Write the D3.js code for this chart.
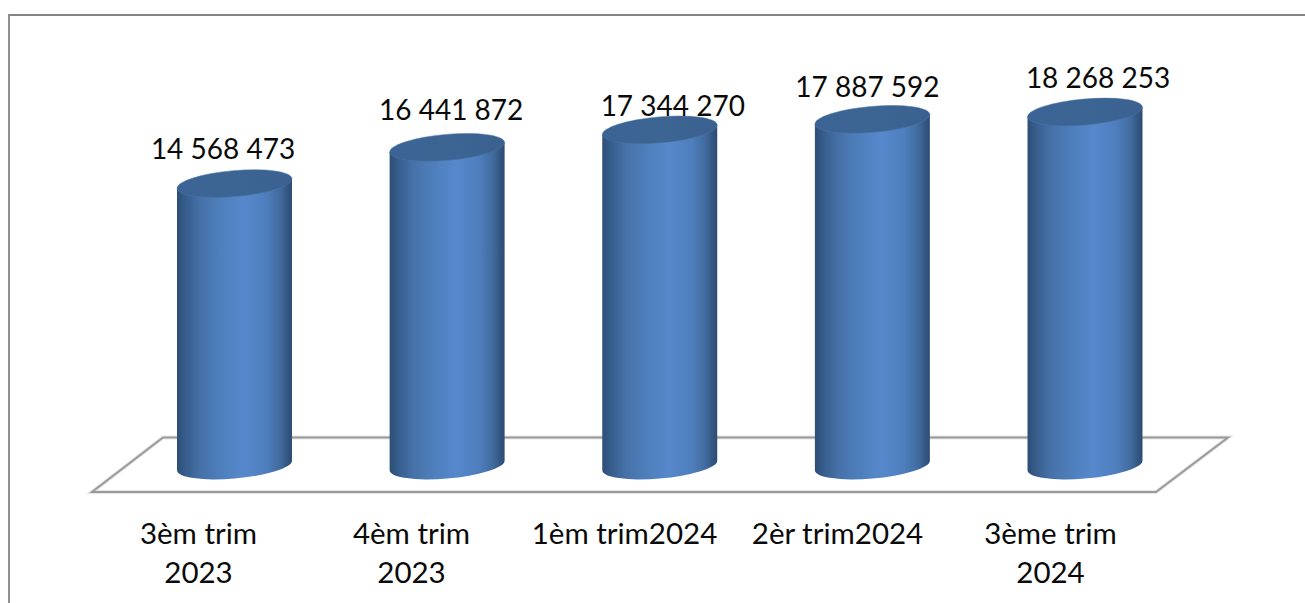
<!DOCTYPE html>
<html>
<head>
<meta charset="utf-8">
<script src="https://cdn.jsdelivr.net/npm/d3@7"></script>
<style>
  html, body { margin: 0; padding: 0; background: #fff; overflow: hidden; }
  text { font-family: Lato, "Open Sans", sans-serif; fill: #0a0a0a; }
</style>
</head>
<body>
<div id="chart"></div>
<script>
(function() {
  var categories = ["3èm trim 2023", "4èm trim 2023", "1èm trim2024", "2èr trim2024", "3ème trim 2024"]
  var values = [14568473, 16441872, 17344270, 17887592, 18268253]
  var valueLabels = ["14 568 473", "16 441 872", "17 344 270", "17 887 592", "18 268 253"]

  // the labels were moved by hand in the original, they are not centred on the cylinders
  var labelShiftX = [-11.5, 4, 13, -5, 13]
  var labelShiftY = [-25, -27, -14, -22, -24]

  var width = 1305, height = 603

  var svg = d3.select("#chart")
      .append("svg")
      .attr("width", width)
      .attr("height", height)
      .style("display", "block")

  // cylinders stand further back than the axis labels, so each has its own scale
  var xCylinder = d3.scalePoint().domain(categories).range([234.5, 1085])
  var xAxisScale = d3.scalePoint().domain(categories).range([198, 1050])
  var yScale = d3.scaleLinear().domain([0, 18268253]).range([465.5, 112])

  // the tilted ellipse used for top and bottom of each cylinder
  var rx = 57.7, ry = 13, tilt = -5
  var rad = tilt * Math.PI / 180
  var edgeX = Math.sqrt(rx * rx * Math.cos(rad) * Math.cos(rad) + ry * ry * Math.sin(rad) * Math.sin(rad))
  var edgeY = (rx * rx - ry * ry) * Math.sin(rad) * Math.cos(rad) / edgeX

  var defs = svg.append("defs")

  var side = defs.append("linearGradient").attr("id", "side")
  var sideStops = [[0, "#2d4e76"], [0.07, "#365c8a"], [0.2, "#4671a8"], [0.38, "#4e7fbc"], [0.58, "#5688cc"],
    [0.78, "#4e7ebc"], [0.9, "#416b9e"], [0.97, "#31537d"], [1, "#2d4c72"]]
  sideStops.forEach(function(s) {
    side.append("stop").attr("offset", s[0]).attr("stop-color", s[1])
  })

  var cap = defs.append("linearGradient").attr("id", "cap")
  cap.append("stop").attr("offset", 0).attr("stop-color", "#3b6395")
  cap.append("stop").attr("offset", 0.5).attr("stop-color", "#3d6593")
  cap.append("stop").attr("offset", 1).attr("stop-color", "#3a618f")

  // page frame, only top and left are visible
  svg.append("path")
      .attr("d", d3.line()([[9, height], [9, 15], [width, 15]]))
      .attr("fill", "none")
      .attr("stroke", "#858585")
      .attr("stroke-width", 1.8)

  // floor, with a soft edge under the grey line
  var floorPath = d3.line()([[92, 492], [1156, 492], [1228, 437.5], [163, 437.5]]) + "Z"

  svg.append("path")
      .attr("d", floorPath)
      .attr("fill", "#fff")
      .attr("stroke", "#e6e6e6")
      .attr("stroke-width", 4)

  svg.append("path")
      .attr("d", floorPath)
      .attr("fill", "none")
      .attr("stroke", "#9a9a9a")
      .attr("stroke-width", 2)

  var bars = svg.selectAll(".cylinder")
      .data(values)
      .enter().append("g")
      .attr("class", "cylinder")
      .attr("transform", function(d, i) {
        return "translate(" + xCylinder(categories[i]) + ",0)"
      })

  bars.append("path")
      .attr("d", function(d) {
        var top = yScale(d), bottom = yScale(0)
        return "M" + (-edgeX) + "," + (top - edgeY) +
          "L" + (-edgeX) + "," + (bottom - edgeY) +
          "A" + rx + "," + ry + " " + tilt + " 0 0 " + edgeX + "," + (bottom + edgeY) +
          "L" + edgeX + "," + (top + edgeY) + "Z"
      })
      .attr("fill", "url(#side)")

  bars.append("ellipse")
      .attr("rx", rx)
      .attr("ry", ry)
      .attr("transform", function(d) {
        return "translate(0," + yScale(d) + ") rotate(" + tilt + ")"
      })
      .attr("fill", "url(#cap)")
      .attr("stroke", "#4a76a8")
      .attr("stroke-width", 0.5)

  bars.append("text")
      .text(function(d, i) { return valueLabels[i] })
      .attr("x", function(d, i) { return labelShiftX[i] })
      .attr("y", function(d, i) { return yScale(d) + labelShiftY[i] })
      .attr("text-anchor", "middle")
      .attr("font-size", "28px")

  // category axis, line and ticks hidden
  var axis = svg.append("g")
      .attr("transform", "translate(0,544)")
      .call(d3.axisBottom(xAxisScale).tickSize(0).tickPadding(0))

  axis.select(".domain").remove()

  axis.selectAll("text")
      .attr("font-family", null)
      .style("font-size", "29.5px")
      .each(function(d) {
        var parts = d.split(/ (?=\d{4})/)
        var label = d3.select(this).text(null).attr("y", 0).attr("dy", null)
        parts.forEach(function(part, i) {
          label.append("tspan")
              .attr("x", 0)
              .attr("y", i * 39)
              .text(part)
        })
      })
})();
</script>
</body>
</html>
